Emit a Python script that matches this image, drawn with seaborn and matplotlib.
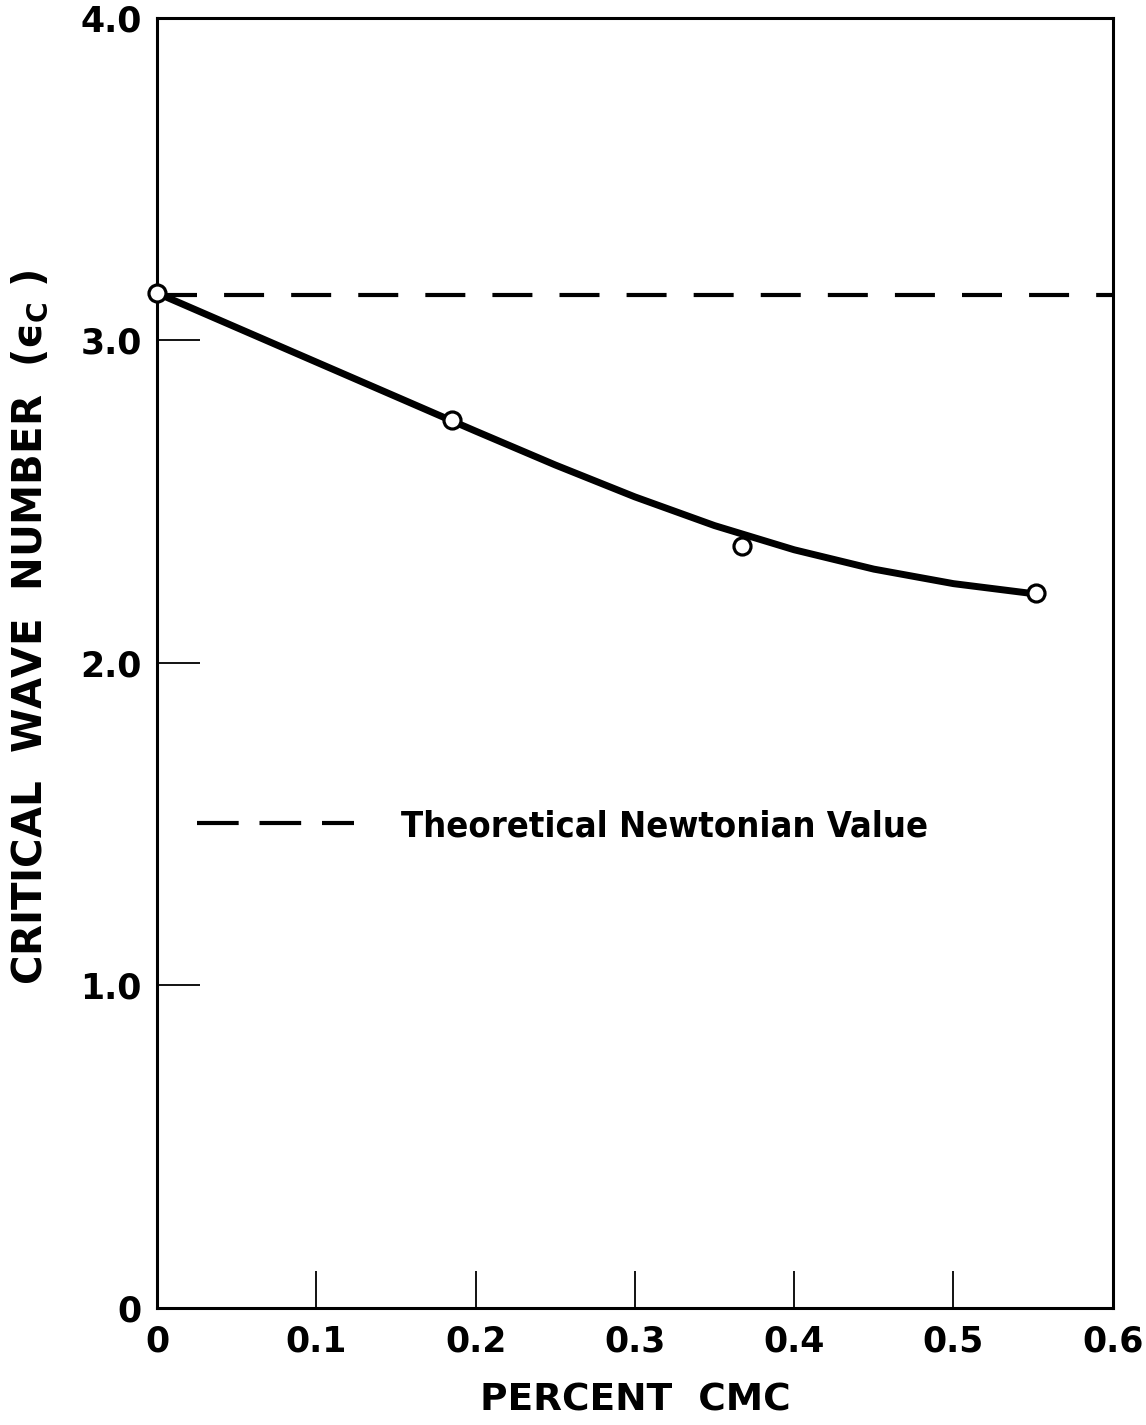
import matplotlib
matplotlib.use("Agg")
import matplotlib.pyplot as plt
from matplotlib.lines import Line2D
import seaborn as sns

# Measured critical wave numbers
cmc_percent = [0.0, 0.185, 0.367, 0.552]
wave_number = [3.147, 2.753, 2.363, 2.218]

# Hand-drawn smooth curve through the measurements
curve_x = [0.0, 0.05, 0.10, 0.15, 0.185, 0.20, 0.25, 0.30, 0.35, 0.40,
           0.45, 0.50, 0.55]
curve_y = [3.147, 3.040, 2.933, 2.826, 2.751, 2.719, 2.614, 2.515, 2.426,
           2.351, 2.291, 2.246, 2.215]

# Theoretical Newtonian value
newtonian_value = 3.14
newtonian_label = "Theoretical Newtonian Value"

x_ticks = [0, 0.1, 0.2, 0.3, 0.4, 0.5, 0.6]
x_tick_labels = ["0", "0.1", "0.2", "0.3", "0.4", "0.5", "0.6"]
y_ticks = [0, 1.0, 2.0, 3.0, 4.0]
y_tick_labels = ["0", "1.0", "2.0", "3.0", "4.0"]

sns.set_theme(style="white")
plt.rcParams["font.family"] = ["DejaVu Sans"]
plt.rcParams["text.color"] = "black"
plt.rcParams["axes.labelcolor"] = "black"
plt.rcParams["mathtext.default"] = "regular"

fig = plt.figure(figsize=(11.46, 14.25), dpi=100)
ax = fig.add_axes([0.137, 0.0821, 0.834, 0.9053])

ax.axhline(newtonian_value, color="black", lw=3.0,
           linestyle=(0, (9.6, 6.5)), zorder=3)

sns.lineplot(x=curve_x, y=curve_y, ax=ax, color="black", lw=5.0,
             sort=True, estimator=None, zorder=4)
sns.scatterplot(x=cmc_percent, y=wave_number, ax=ax, marker="o", s=150,
                facecolor="white", edgecolor="black", linewidth=2.3,
                zorder=6, clip_on=False)

ax.set_xlim(0, 0.6)
ax.set_ylim(0, 4.0)
ax.set_xticks(x_ticks)
ax.set_xticklabels(x_tick_labels, fontweight="bold")
ax.set_yticks(y_ticks)
ax.set_yticklabels(y_tick_labels, fontweight="bold")

for side in ["left", "right", "top", "bottom"]:
    ax.spines[side].set_visible(True)
    ax.spines[side].set_color("black")
    ax.spines[side].set_linewidth(2.2)

ax.tick_params(axis="y", direction="in", length=31, width=1.3,
               labelsize=25, pad=11, colors="black", left=True)
ax.tick_params(axis="x", direction="in", length=27, width=1.3,
               labelsize=25, pad=12, colors="black", bottom=True)

ax.set_xlabel("PERCENT  CMC", fontsize=27, fontweight="bold")
ax.xaxis.set_label_coords(0.5, -0.058)
ax.set_ylabel("CRITICAL  WAVE  NUMBER  (ϵ$_{C}$ )", fontsize=29,
              fontweight="bold")
ax.yaxis.set_label_coords(-0.112, 0.528)

# Legend key for the dashed reference line
key = Line2D([], [], color="black", lw=3.0, linestyle=(0, (10, 5)))
ax.legend(handles=[key], labels=[newtonian_label], loc="center left",
          bbox_to_anchor=(0.0418, 0.3736), frameon=False,
          borderaxespad=0, borderpad=0, handlelength=4.36,
          handletextpad=1.28,
          prop={"size": 26, "stretch": "condensed", "weight": "bold"})

fig.savefig("out.png", dpi=100, facecolor="white")
